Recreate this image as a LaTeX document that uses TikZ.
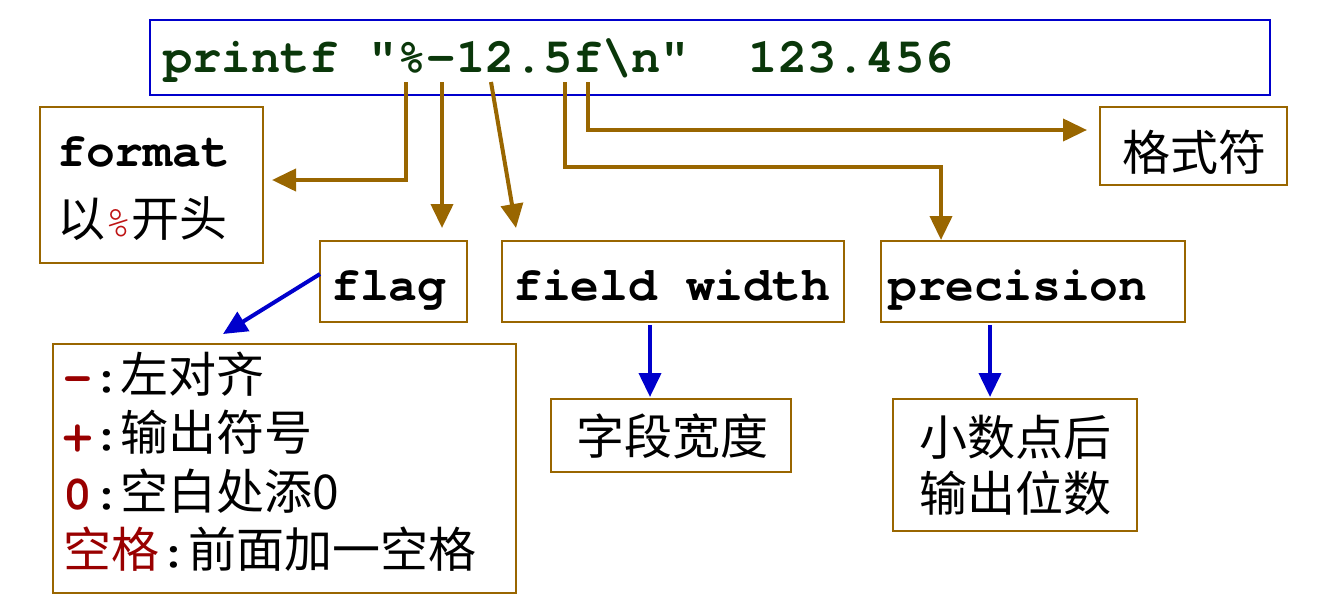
\documentclass[tikz,border=0pt]{standalone}
\usepackage{fontspec}
\newfontfamily\cjk{Noto Sans CJK SC}
\newfontfamily\mono[Ligatures={NoCommon,NoRequired,NoContextual}]{TeX Gyre Cursor}
\usetikzlibrary{arrows.meta}
\definecolor{brn}{RGB}{153,102,0}
\definecolor{blu}{RGB}{0,0,204}
\definecolor{codegreen}{RGB}{10,55,10}
\definecolor{dred}{RGB}{153,0,0}
\definecolor{pred}{RGB}{190,20,20}
\tikzset{
  box/.style={draw=brn,line width=2pt},
  barrow/.style={draw=brn,line width=4pt,-{Triangle[length=24pt,width=22pt]}},
  larrow/.style={draw=blu,line width=4pt,-{Triangle[length=24pt,width=22pt]}},
  monotxt/.style={inner sep=0pt,anchor=base west,font=\mono\bfseries\fontsize{48}{56}\selectfont},
  cjktxt/.style={inner sep=0pt,font=\cjk\fontsize{48}{56}\selectfont},
}
\newcommand{\mk}[1]{{\mono\bfseries#1}}
\begin{document}
\begin{tikzpicture}[x=1pt,y=-1pt]
\useasboundingbox (0,0) rectangle (1337,600);
% code box
\draw[draw=blu,line width=2pt] (150,20) rectangle (1270,95);
\node[monotxt,font=\mono\bfseries\fontsize{48.8}{56}\selectfont,text=codegreen] (code) at (163,72) {printf "\%-12.5f\textbackslash n"\ \ 123.456};
% boxes
\draw[box] (40,107) rectangle (263,263);
\node[monotxt] (fmt) at (57,166) {format};
\node[cjktxt,anchor=base west] (fmt2) at (57,236) {以{\mono\fontsize{44}{50}\selectfont\color{pred}\%}开头};
\draw[box] (1100,107) rectangle (1287,185);
\node[cjktxt] (gsf) at (1194,152) {格式符};
\draw[box] (320,241) rectangle (467,322);
\node[monotxt] (flag) at (331,300) {f{}lag};
\draw[box] (502,241) rectangle (844,322);
\node[monotxt] (fw) at (513,300) {f{}ield width};
\draw[box] (881,241) rectangle (1185,322);
\node[monotxt] (prec) at (888,300) {precision};
\draw[box] (53,344) rectangle (516,593);
\node[cjktxt,anchor=base west] (l1) at (63,392) {\mk{\color{dred}-}\mk{:}左对齐};
\node[cjktxt,anchor=base west] (l2) at (63,450) {\mk{\color{dred}+}\mk{:}输出符号};
\node[cjktxt,anchor=base west] (l3) at (63,509) {\mk{\color{dred}0}\mk{:}空白处添0};
\node[cjktxt,anchor=base west] (l4) at (63,567) {{\color{dred}空格}\mk{:}前面加一空格};
\draw[box] (551,399) rectangle (791,472);
\node[cjktxt] (zdkd) at (672,436) {字段宽度};
\draw[box] (893,399) rectangle (1137,531);
\node[cjktxt,align=center] (xsd) at (1015,465) {小数点后\\输出位数};
% coordinates
\coordinate (a1) at (406,82);
\coordinate (a2) at (442,82);
\coordinate (a3) at (491,82);
\coordinate (a4) at (565,82);
\coordinate (a5) at (588,82);
\coordinate (t1) at (272,180);
\coordinate (t2) at (442,228);
\coordinate (t3) at (516,228);
\coordinate (t4) at (941,240);
\coordinate (t5) at (1087,130);
\draw[barrow] (a1) |- (t1);
\draw[barrow] (a2) -- (t2);
\draw[barrow] (a3) -- (t3);
\draw[barrow] (a4) |- (765,167) -| (t4);
\draw[barrow] (a5) |- (t5);
\coordinate (f1) at (320,274);
\coordinate (f2) at (223,334);
\coordinate (w1) at (650,325);
\coordinate (w2) at (650,397);
\coordinate (p1) at (990,325);
\coordinate (p2) at (990,397);
\draw[larrow] (f1) -- (f2);
\draw[larrow] (w1) -- (w2);
\draw[larrow] (p1) -- (p2);
\end{tikzpicture}
\end{document}
